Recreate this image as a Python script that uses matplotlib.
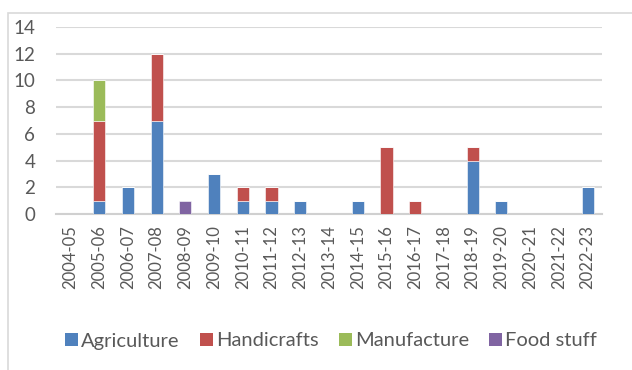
import matplotlib
matplotlib.use("Agg")
import matplotlib.pyplot as plt
from matplotlib.patches import Rectangle, Patch
import numpy as np

years = ['2004-05', '2005-06', '2006-07', '2007-08', '2008-09', '2009-10', '2010-11',
         '2011-12', '2012-13', '2013-14', '2014-15', '2015-16', '2016-17', '2017-18',
         '2018-19', '2019-20', '2020-21', '2021-22', '2022-23']
agriculture = [0, 1, 2, 7, 0, 3, 1, 1, 1, 0, 1, 0, 0, 0, 4, 1, 0, 0, 2]
handicrafts = [0, 6, 0, 5, 0, 0, 1, 1, 0, 0, 0, 5, 1, 0, 1, 0, 0, 0, 0]
manufacture = [0, 3, 0, 0, 0, 0, 0, 0, 0, 0, 0, 0, 0, 0, 0, 0, 0, 0, 0]
food_stuff = [0, 0, 0, 0, 1, 0, 0, 0, 0, 0, 0, 0, 0, 0, 0, 0, 0, 0, 0]

series = [('Agriculture', agriculture, '#4F81BD'),
          ('Handicrafts', handicrafts, '#C0504D'),
          ('Manufacture', manufacture, '#9BBB59'),
          ('Food stuff', food_stuff, '#8064A2')]

plt.rcParams['font.family'] = ['Lato', 'DejaVu Sans']

fig = plt.figure(figsize=(6.32, 3.70), dpi=100)
# outer chart frame (cropped on right and bottom)
fig.patches.append(Rectangle((8 / 632, -0.1), 1.2, 1 - 13 / 370 + 0.1, transform=fig.transFigure,
                             fill=False, edgecolor='#D9D9D9', linewidth=1.2))

ax = fig.add_axes([56 / 632, 1 - 214 / 370, (602 - 56) / 632, (214 - 27) / 370])
x = np.arange(len(years))
bottom = np.zeros(len(years))
for name, vals, color in series:
    vals = np.array(vals, dtype=float)
    ax.bar(x, vals, bottom=bottom, width=0.42, color=color, edgecolor='white', linewidth=0.4, zorder=3)
    bottom += vals

ax.set_xlim(-0.5, len(years) - 0.5)
ax.set_ylim(0, 14)
ax.set_yticks(range(0, 15, 2))
ax.set_xticks(x)
ax.set_xticklabels(years, rotation=90, fontsize=12, color='#595959')
ax.tick_params(axis='y', labelsize=13.5, colors='#595959', length=0, pad=15)
ax.tick_params(axis='x', length=0, pad=8)
ax.grid(axis='y', color='#D9D9D9', linewidth=1.5, zorder=0)
for s in ['top', 'right', 'left']:
    ax.spines[s].set_visible(False)
ax.spines['bottom'].set_color('#D0D0D0')
ax.spines['bottom'].set_linewidth(1.5)

handles = [Patch(facecolor=c, label=n) for n, _, c in series]
fig.legend(handles=handles, loc='center', bbox_to_anchor=(0.524, 1 - 341 / 370), ncol=4,
           frameon=False, fontsize=14.5, handlelength=0.65, handleheight=0.65, handletextpad=0.15,
           columnspacing=1.0, labelcolor='#595959')

fig.savefig('out.png', dpi=100)
